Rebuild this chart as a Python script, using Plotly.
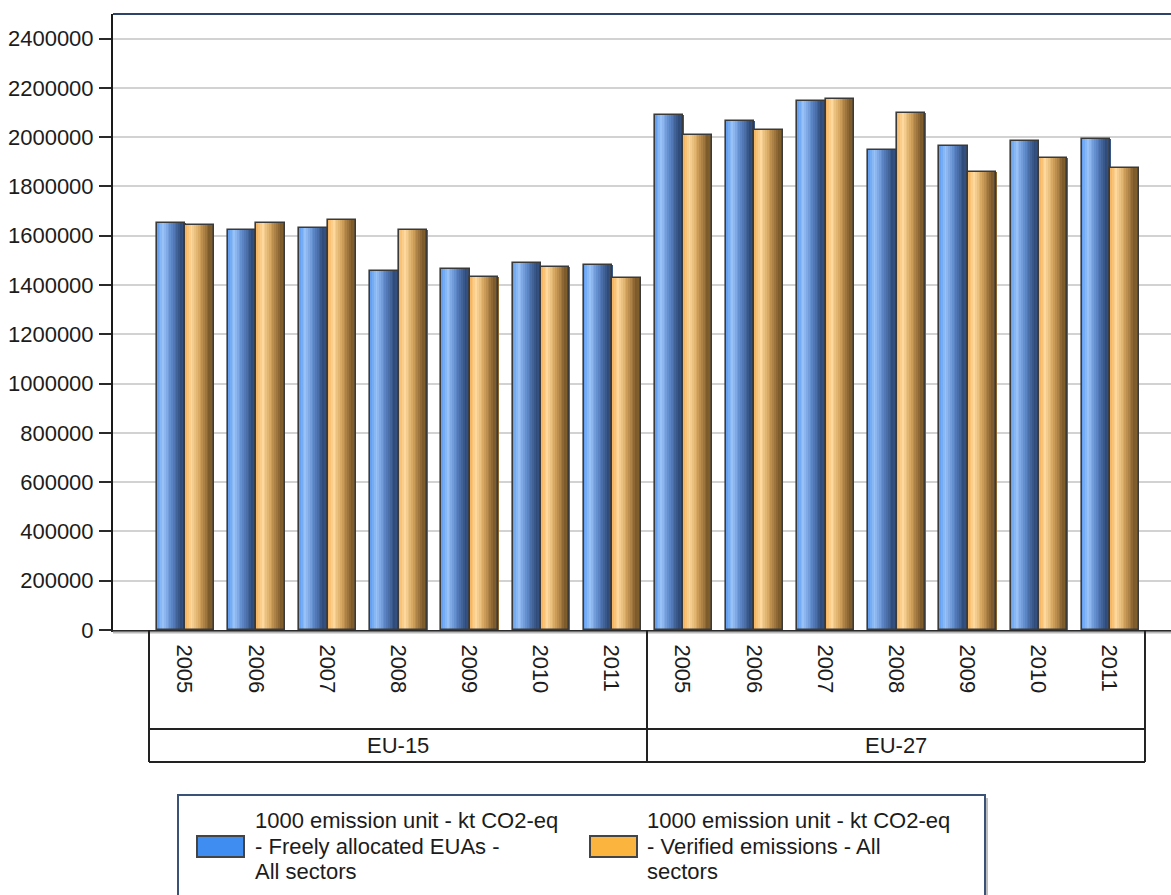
import plotly.graph_objects as go

# ---- data -------------------------------------------------------------
years = ["2005", "2006", "2007", "2008", "2009", "2010", "2011"]
regions = ["EU-15", "EU-27"]

eu15_allocated = [1650000, 1624000, 1632000, 1457000, 1465000, 1490000, 1481000]
eu15_verified = [1642000, 1650000, 1665000, 1623000, 1431000, 1472000, 1430000]
eu27_allocated = [2091000, 2066000, 2148000, 1949000, 1966000, 1983000, 1991000]
eu27_verified = [2008000, 2031000, 2157000, 2098000, 1858000, 1915000, 1874000]

series_names = [
    "1000 emission unit - kt CO2-eq - Freely allocated EUAs - All sectors",
    "1000 emission unit - kt CO2-eq - Verified emissions - All sectors",
]
legend_lines = [
    ["1000 emission unit - kt CO2-eq", "- Freely allocated EUAs -", "All sectors"],
    ["1000 emission unit - kt CO2-eq", "- Verified emissions - All", "sectors"],
]
y_ticks = list(range(0, 2400001, 200000))

allocated = eu15_allocated + eu27_allocated
verified = eu15_verified + eu27_verified
labels = years + years
xpos = list(range(len(labels)))

# ---- styling ------------------------------------------------------------
FONT = "Liberation Sans, Arial, sans-serif"
TXT = "#1c1c1c"
W, H = 1171, 895
L, T, B = 113, 14, 630          # plot area pixel edges
PW, PH = W - L, B - T

BAR_W = 0.40
N_STRIPS = 16

blue_stops = [(0.0, "#5c9bef"), (0.22, "#98c2f7"), (0.5, "#5f8acb"),
              (0.85, "#2f4b7a"), (1.0, "#3b5989")]
orange_stops = [(0.0, "#f3b15a"), (0.22, "#fed89d"), (0.5, "#d3a35c"),
                (0.85, "#7c5a2a"), (1.0, "#88642f")]


def hex2rgb(h):
    h = h.lstrip("#")
    return tuple(int(h[i:i + 2], 16) for i in (0, 2, 4))


def shade(stops, t):
    for (t0, c0), (t1, c1) in zip(stops, stops[1:]):
        if t0 <= t <= t1:
            f = (t - t0) / (t1 - t0)
            a, b = hex2rgb(c0), hex2rgb(c1)
            return "rgb(%d,%d,%d)" % tuple(round(a[k] + (b[k] - a[k]) * f) for k in range(3))
    return stops[-1][1]


def px_x(px):
    return (px - L) / PW


def px_y(py):
    return (B - py) / PH


fig = go.Figure()


def add_cylinder_bars(values, offset, stops, name):
    strip = BAR_W / N_STRIPS
    for i in range(N_STRIPS):
        t = (i + 0.5) / N_STRIPS
        fig.add_trace(go.Bar(
            x=xpos, y=values, width=strip * 1.25, offset=offset + i * strip,
            marker=dict(color=shade(stops, t), line=dict(width=0)),
            showlegend=False, hoverinfo="skip",
        ))
    fig.add_trace(go.Bar(
        x=xpos, y=values, width=BAR_W, offset=offset, name=name,
        marker=dict(color="rgba(0,0,0,0)", line=dict(color="#3a3a3a", width=1.6)),
        showlegend=False,
    ))


add_cylinder_bars(allocated, -BAR_W + 0.01, blue_stops, series_names[0])
add_cylinder_bars(verified, 0.01, orange_stops, series_names[1])

shapes = []
# frame line along the top of the plot
shapes.append(dict(type="line", xref="paper", yref="paper", x0=0, x1=1, y0=1, y1=1,
                   line=dict(color="#2d4468", width=2)))
# shadow under the category axis
shapes.append(dict(type="line", xref="paper", yref="paper", x0=0, x1=1,
                   y0=px_y(B + 2.5), y1=px_y(B + 2.5), line=dict(color="#b8b8b8", width=2)))

# category table below the axis
row1, row2 = px_y(729), px_y(762)
n = len(years)
for xv in (-0.5, n - 0.5, 2 * n - 0.5):
    shapes.append(dict(type="line", xref="x", yref="paper", x0=xv, x1=xv, y0=0, y1=row2,
                       line=dict(color="#222", width=2)))
for yv in (row1, row2):
    shapes.append(dict(type="line", xref="x", yref="paper", x0=-0.5, x1=2 * n - 0.5, y0=yv, y1=yv,
                       line=dict(color="#222", width=2)))

annotations = []
for gi, reg in enumerate(regions):
    annotations.append(dict(x=gi * n + (n - 1) / 2, y=px_y(745), xref="x", yref="paper",
                            text=reg, showarrow=False, xanchor="center", yanchor="middle",
                            font=dict(family=FONT, size=22, color=TXT)))

# legend panel
shapes.append(dict(type="rect", xref="paper", yref="paper",
                   x0=px_x(181), x1=px_x(988), y0=px_y(798), y1=px_y(905),
                   fillcolor="#bdbdbd", line=dict(width=0), layer="above"))
shapes.append(dict(type="rect", xref="paper", yref="paper",
                   x0=px_x(178), x1=px_x(985), y0=px_y(795), y1=px_y(905),
                   fillcolor="white", line=dict(color="#3b5278", width=2), layer="above"))
swatch_fill = ["#3f8df0", "#fbb43d"]
swatch_x = [197, 590]
text_x = [253, 645]
for k in range(2):
    shapes.append(dict(type="rect", xref="paper", yref="paper",
                       x0=px_x(swatch_x[k]), x1=px_x(swatch_x[k] + 47),
                       y0=px_y(836), y1=px_y(857),
                       fillcolor=swatch_fill[k], line=dict(color="#444", width=2), layer="above"))
    for j, line in enumerate(legend_lines[k]):
        annotations.append(dict(x=px_x(text_x[k]), y=px_y(821 + 25 * j), xref="paper", yref="paper",
                                text=line, showarrow=False, xanchor="left", yanchor="middle",
                                font=dict(family=FONT, size=22, color=TXT)))

cat_w = PW / 14.872
x_lo = -0.5 - (149 - L) / cat_w

fig.update_layout(
    width=W, height=H,
    margin=dict(l=L, r=0, t=T, b=H - B, pad=0),
    barmode="overlay",
    bargap=0,
    paper_bgcolor="white", plot_bgcolor="white",
    font=dict(family=FONT, size=22, color=TXT),
    showlegend=False,
    xaxis=dict(
        range=[x_lo, x_lo + 14.872], tickmode="array", tickvals=xpos, ticktext=labels,
        tickangle=90, ticks="", showgrid=False, zeroline=False,
        showline=True, linecolor="#2a2a2a", linewidth=2,
        tickfont=dict(family=FONT, size=22, color=TXT), ticklabelstandoff=8,
    ),
    yaxis=dict(
        range=[0, 2500000], tickmode="array", tickvals=y_ticks, tickformat="d",
        showgrid=True, gridcolor="#d2d2d2", gridwidth=1.5, zeroline=False,
        showline=True, linecolor="#1a1a1a", linewidth=2,
        ticks="outside", ticklen=12, tickwidth=2, tickcolor="#2a2a2a",
        tickfont=dict(family=FONT, size=22, color=TXT), ticklabelstandoff=1,
    ),
    shapes=shapes,
    annotations=annotations,
)

fig.write_html("out.html")
